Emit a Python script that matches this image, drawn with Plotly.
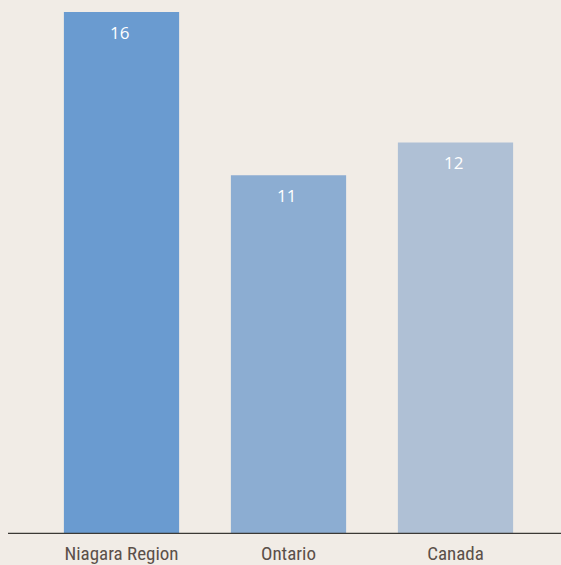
import plotly.graph_objects as go

categories = ["Niagara Region", "Ontario", "Canada"]
values = [16, 11, 12]
colors = ["#6a9bd0", "#8cadd2", "#afc0d5"]

W, H = 561, 565
bg = "#f1ece6"

fig = go.Figure()
fig.add_trace(go.Bar(
    x=list(range(len(categories))), y=values,
    marker=dict(color=colors, line=dict(width=0)),
    width=0.69, hoverinfo="skip",
))
for i, v in enumerate(values):
    fig.add_annotation(x=i, y=v, text=str(v), showarrow=False, yshift=-20, xshift=-2,
                       font=dict(color="white", size=17, family="Open Sans, Noto Sans, sans-serif"))

fig.add_shape(type="line", xref="paper", yref="y", x0=8/561, x1=1, y0=0, y1=0,
              line=dict(color="#3b3935", width=2.5))

fig.update_layout(
    width=W, height=H,
    margin=dict(l=0, r=0, t=0, b=31),
    paper_bgcolor=bg, plot_bgcolor=bg,
    showlegend=False,
    xaxis=dict(range=[-121.5/167, (561-121.5)/167], tickmode="array",
               tickvals=list(range(len(categories))), ticktext=categories,
               showgrid=False, zeroline=False, showline=False, automargin=False,
               ticks="outside", ticklen=2, tickcolor="rgba(0,0,0,0)",
               tickfont=dict(size=19, color="#5b5049",
                             family="Liberation Sans Narrow, Roboto Condensed, Roboto, sans-serif")),
    yaxis=dict(range=[0, 534/32.625], visible=False, showgrid=False, zeroline=False,
               automargin=False),
)
fig.write_html("out.html", config={"displayModeBar": False},
               post_script="document.body.style.margin='0';document.body.style.overflow='hidden';")
